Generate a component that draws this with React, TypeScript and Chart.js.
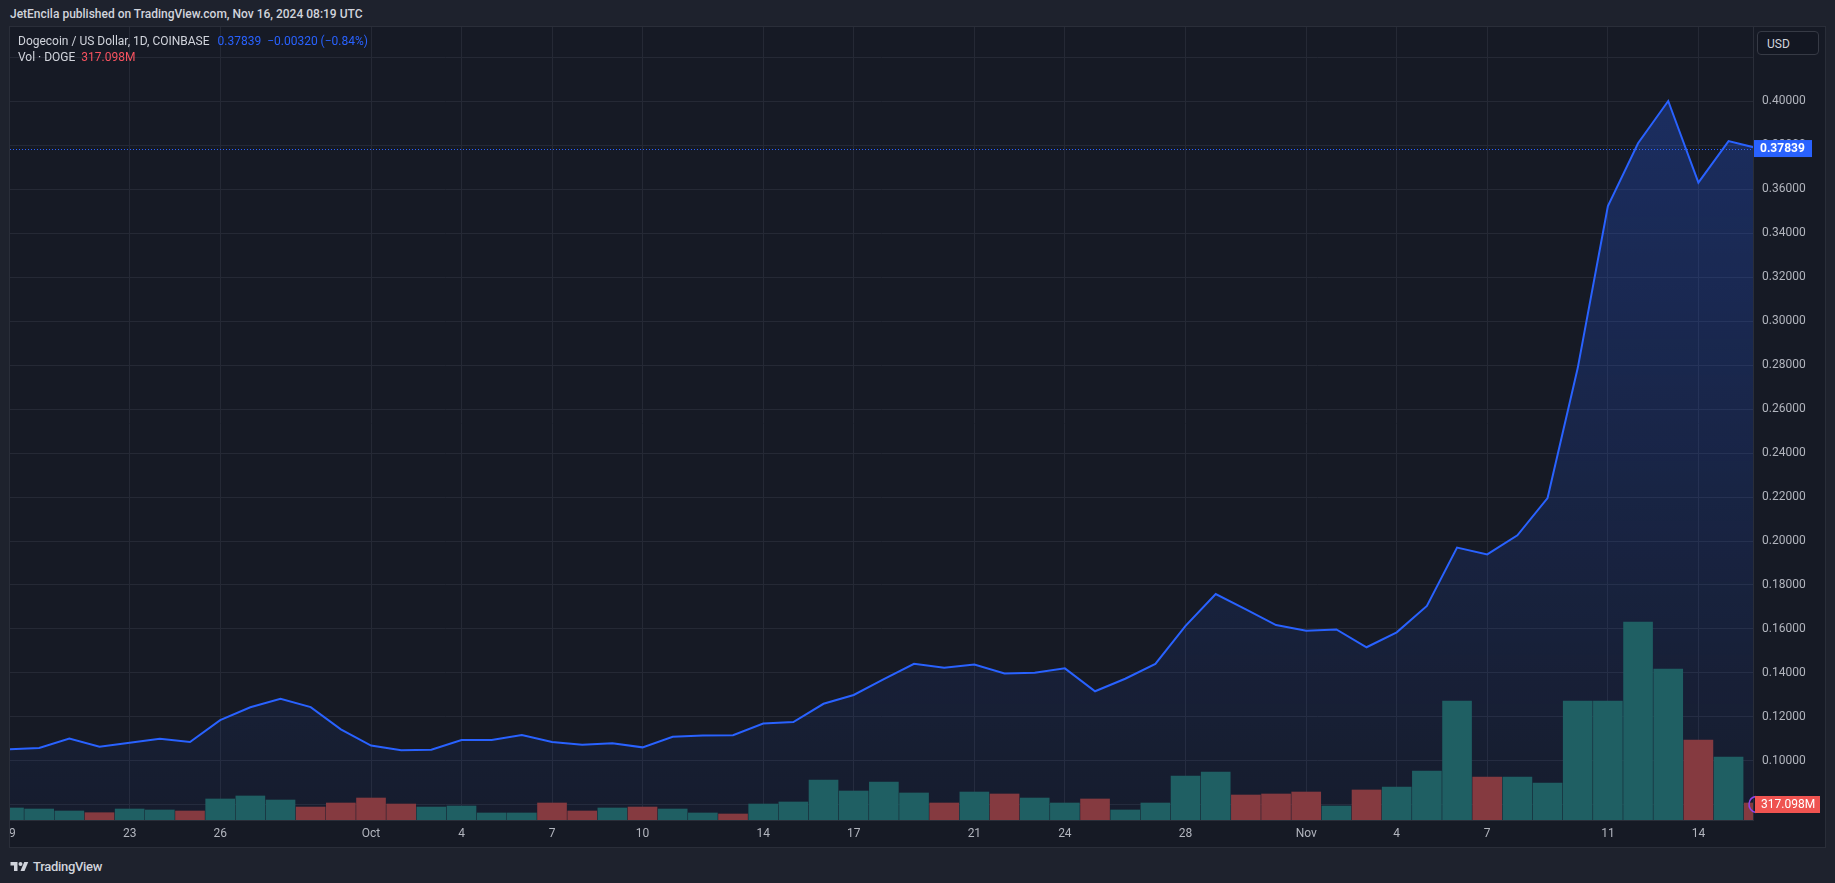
import React, { useEffect, useRef } from 'react';
import { Chart, registerables } from 'chart.js';

Chart.register(...registerables);

// ---- Data (daily, Sep 19 → Nov 16, 2024) ----
const DAYS = [
  'Sep 19', 'Sep 20', 'Sep 21', 'Sep 22', 'Sep 23', 'Sep 24', 'Sep 25', 'Sep 26', 'Sep 27', 'Sep 28', 'Sep 29', 'Sep 30',
  'Oct 1', 'Oct 2', 'Oct 3', 'Oct 4', 'Oct 5', 'Oct 6', 'Oct 7', 'Oct 8', 'Oct 9', 'Oct 10', 'Oct 11', 'Oct 12', 'Oct 13',
  'Oct 14', 'Oct 15', 'Oct 16', 'Oct 17', 'Oct 18', 'Oct 19', 'Oct 20', 'Oct 21', 'Oct 22', 'Oct 23', 'Oct 24', 'Oct 25',
  'Oct 26', 'Oct 27', 'Oct 28', 'Oct 29', 'Oct 30', 'Oct 31',
  'Nov 1', 'Nov 2', 'Nov 3', 'Nov 4', 'Nov 5', 'Nov 6', 'Nov 7', 'Nov 8', 'Nov 9', 'Nov 10', 'Nov 11', 'Nov 12', 'Nov 13',
  'Nov 14', 'Nov 15', 'Nov 16',
];

const PRICES = [
  0.1053, 0.1059, 0.1102, 0.1065, 0.1083, 0.1101, 0.1086, 0.1186, 0.1244, 0.1283, 0.1245, 0.1144,
  0.1070, 0.1049, 0.1051, 0.1095, 0.1095, 0.1118, 0.1086, 0.1074, 0.1081, 0.1062, 0.1110, 0.1116, 0.1117,
  0.1170, 0.1177, 0.1260, 0.1300, 0.1372, 0.1442, 0.1424, 0.1439, 0.1398, 0.1401, 0.1421, 0.1317,
  0.1374, 0.1441, 0.1614, 0.1759, 0.1689, 0.1618,
  0.1592, 0.1598, 0.1517, 0.1585, 0.1705, 0.1970, 0.1939, 0.2026, 0.2195, 0.2786, 0.3523, 0.3808, 0.4000,
  0.3629, 0.3818, 0.37839,
];

// volume in millions of DOGE
const VOLUMES = [
  224, 205, 168, 136, 205, 187, 168, 392, 448, 373, 242, 317,
  410, 298, 242, 261, 131, 131, 317, 168, 224, 242, 205, 131, 112,
  298, 336, 746, 541, 709, 504, 317, 522, 485, 410, 317, 392,
  187, 317, 821, 895, 466, 485,
  522, 261, 560, 615, 914, 2219, 802, 802, 690, 2219, 2219, 3693, 2816,
  1492, 1175, 317.098,
];

const VOLUME_UP = [
  true, true, true, false, true, true, false, true, true, true, false, false,
  false, false, true, true, true, true, false, false, true, false, true, true, false,
  true, true, true, true, true, true, false, true, false, true, true, false,
  true, true, true, true, false, false,
  false, true, false, true, true, true, false, true, true, true, true, true, true,
  false, true, false,
];

const X_TICK_INDEX = [0, 4, 7, 12, 15, 18, 21, 25, 28, 32, 35, 39, 43, 46, 49, 53, 56];
const X_TICK_LABELS = ['19', '23', '26', 'Oct', '4', '7', '10', '14', '17', '21', '24', '28', 'Nov', '4', '7', '11', '14'];

const PRICE_TICKS = [0.08, 0.10, 0.12, 0.14, 0.16, 0.18, 0.20, 0.22, 0.24, 0.26, 0.28, 0.30, 0.32, 0.34, 0.36, 0.38, 0.40, 0.42];
const PRICE_LABEL_MIN = 0.10;
const PRICE_LABEL_MAX = 0.40;

const LAST_PRICE = 0.37839;
const LAST_VOLUME = 317.098;

// ---- Axis ranges / styling ----
const X_MIN = 0.033;
const X_MAX = 57.81;
const Y_MIN = 0.07318;
const Y_MAX = 0.43364;
const VOL_AXIS_MAX = 14790;

const OUTER_BG = '#1e222d';
const PANE_BG = '#161a25';
const GRID = '#252935';
const BORDER = '#2a2e39';
const TEXT = '#b2b5be';
const BLUE = '#2962ff';
const TEAL = '#1f5f63';
const RED = '#853a40';
const FONT = 'Roboto, "Noto Sans", "DejaVu Sans", sans-serif';

const zeroPadding = (s: any) => {
  s.paddingLeft = 0;
  s.paddingRight = 0;
  s.paddingTop = 0;
  s.paddingBottom = 0;
};

const overlayPlugin = {
  id: 'tvOverlay',
  afterDatasetsDraw(chart: any) {
    const { ctx, chartArea } = chart;
    const y = chart.scales.y.getPixelForValue(LAST_PRICE);
    ctx.save();
    ctx.beginPath();
    ctx.rect(chartArea.left, chartArea.top, chartArea.right - chartArea.left, chartArea.bottom - chartArea.top);
    ctx.clip();
    ctx.strokeStyle = BLUE;
    ctx.lineWidth = 1;
    ctx.setLineDash([1, 2]);
    ctx.beginPath();
    ctx.moveTo(chartArea.left, Math.round(y) + 0.5);
    ctx.lineTo(chartArea.right, Math.round(y) + 0.5);
    ctx.stroke();
    ctx.restore();
  },
  afterDraw(chart: any) {
    const { ctx, chartArea } = chart;
    const r = chartArea.right;
    // last price label
    const py = chart.scales.y.getPixelForValue(LAST_PRICE);
    ctx.save();
    ctx.fillStyle = BLUE;
    ctx.fillRect(r + 1, py - 8.5, 58, 17);
    ctx.fillStyle = '#ffffff';
    ctx.font = `bold 12px ${FONT}`;
    ctx.textBaseline = 'middle';
    ctx.textAlign = 'left';
    ctx.fillText(LAST_PRICE.toFixed(5), r + 7, py + 0.5);

    // last volume label
    const vy = chart.scales.yv.getPixelForValue(LAST_VOLUME);
    ctx.strokeStyle = '#8e44ec';
    ctx.lineWidth = 1.5;
    ctx.beginPath();
    ctx.arc(r + 4, vy + 1.5, 8, 0.55 * Math.PI, 1.45 * Math.PI);
    ctx.stroke();
    ctx.fillStyle = '#ef5350';
    ctx.fillRect(r + 2, vy - 7, 65, 17);
    ctx.fillStyle = '#ffffff';
    ctx.font = `12px ${FONT}`;
    ctx.fillText(LAST_VOLUME.toFixed(3) + 'M', r + 8, vy + 2);
    ctx.restore();
  },
};

export default function App() {
  const canvasRef = useRef<HTMLCanvasElement | null>(null);

  useEffect(() => {
    document.body.style.margin = '0';
    document.body.style.overflow = 'hidden';
    document.body.style.background = OUTER_BG;
    const canvas = canvasRef.current;
    if (!canvas) return;
    Chart.defaults.font.family = FONT;

    const priceData = PRICES.map((p, i) => ({ x: i, y: p }));
    const volData = VOLUMES.map((v, i) => ({ x: i, y: v }));
    const maxPrice = Math.max(...PRICES);

    const chart = new Chart(canvas, {
      type: 'bar',
      data: {
        labels: DAYS,
        datasets: [
          {
            type: 'line',
            label: 'DOGEUSD',
            data: priceData,
            yAxisID: 'y',
            borderColor: BLUE,
            borderWidth: 2,
            pointRadius: 0,
            tension: 0,
            fill: 'start',
            order: 2,
            backgroundColor: (c: any) => {
              const ch = c.chart;
              const area = ch.chartArea;
              if (!area) return 'rgba(41,98,255,0.15)';
              const top = ch.scales.y.getPixelForValue(maxPrice);
              const g = ch.ctx.createLinearGradient(0, top, 0, area.bottom);
              g.addColorStop(0, 'rgba(41,98,255,0.27)');
              g.addColorStop(1, 'rgba(41,98,255,0.04)');
              return g;
            },
          } as any,
          {
            type: 'bar',
            label: 'Vol',
            data: volData,
            yAxisID: 'yv',
            backgroundColor: VOLUME_UP.map((u) => (u ? TEAL : RED)),
            barThickness: 29,
            order: 1,
          } as any,
        ],
      },
      options: {
        responsive: false,
        maintainAspectRatio: false,
        animation: false,
        layout: { padding: 0, autoPadding: false } as any,
        plugins: {
          legend: { display: false },
          tooltip: { enabled: false },
        },
        scales: {
          x: {
            type: 'linear',
            min: X_MIN,
            max: X_MAX,
            offset: false,
            afterBuildTicks: (s: any) => {
              s.ticks = X_TICK_INDEX.map((v) => ({ value: v }));
            },
            afterFit: (s: any) => {
              s.height = 27;
              zeroPadding(s);
            },
            ticks: {
              autoSkip: false,
              maxRotation: 0,
              minRotation: 0,
              padding: 7,
              color: TEXT,
              font: { size: 12, family: FONT },
              callback: (_v: any, i: number) => X_TICK_LABELS[i],
            },
            grid: { color: GRID, drawTicks: false, offset: false },
            border: { display: true, color: BORDER },
          } as any,
          y: {
            type: 'linear',
            position: 'right',
            min: Y_MIN,
            max: Y_MAX,
            afterBuildTicks: (s: any) => {
              s.ticks = PRICE_TICKS.map((v) => ({ value: v }));
            },
            afterFit: (s: any) => {
              s.width = 72;
              zeroPadding(s);
            },
            ticks: {
              padding: 9,
              color: TEXT,
              font: { size: 12, family: FONT },
              callback: (v: any) =>
                v >= PRICE_LABEL_MIN - 1e-6 && v <= PRICE_LABEL_MAX + 1e-6 ? Number(v).toFixed(5) : '',
            },
            grid: { color: GRID, drawTicks: false },
            border: { display: true, color: BORDER },
          } as any,
          yv: {
            type: 'linear',
            display: false,
            min: 0,
            max: VOL_AXIS_MAX,
          },
        },
      },
      plugins: [overlayPlugin],
    });

    return () => chart.destroy();
  }, []);

  const abs = (style: React.CSSProperties): React.CSSProperties => ({ position: 'absolute', ...style });

  return (
    <div
      style={{
        position: 'absolute',
        left: 0,
        top: 0,
        width: 1835,
        height: 883,
        background: OUTER_BG,
        fontFamily: FONT,
        overflow: 'hidden',
      }}
    >
      <div style={abs({ left: 10, top: 7, fontSize: 12, fontWeight: 500, color: '#d1d4dc', whiteSpace: 'nowrap' })}>
        JetEncila published on TradingView.com, Nov 16, 2024 08:19 UTC
      </div>
      <div
        style={abs({
          left: 9,
          top: 26,
          width: 1815,
          height: 820,
          background: PANE_BG,
          border: `1px solid ${BORDER}`,
        })}
      />
      <canvas
        ref={canvasRef}
        width={1815}
        height={820}
        style={{ position: 'absolute', left: 10, top: 27, width: 1815, height: 820 }}
      />
      <div style={abs({ left: 18, top: 34, fontSize: 12, color: '#d1d4dc', whiteSpace: 'nowrap' })}>
        Dogecoin / US Dollar, 1D, COINBASE
        <span style={{ color: BLUE, marginLeft: 8 }}>0.37839&nbsp;&nbsp;−0.00320 (−0.84%)</span>
      </div>
      <div style={abs({ left: 18, top: 50, fontSize: 12, color: '#d1d4dc', whiteSpace: 'nowrap' })}>
        Vol · DOGE
        <span style={{ color: '#f7525f', marginLeft: 6 }}>317.098M</span>
      </div>
      <div
        style={abs({
          left: 1757,
          top: 31,
          width: 62,
          height: 24,
          border: '1px solid #363a45',
          borderRadius: 4,
          background: '#131722',
          color: '#d1d4dc',
          fontSize: 12,
          lineHeight: '24px',
          paddingLeft: 9,
          boxSizing: 'border-box',
        })}
      >
        USD
      </div>
      <div style={abs({ left: 10, top: 859, display: 'flex', alignItems: 'center', color: '#d1d4dc' })}>
        <svg width="19" height="14" viewBox="0 0 36 28" style={{ marginRight: 4 }}>
          <path d="M14 22H7V11H0V4h14v18z" fill="#d1d4dc" />
          <circle cx="20" cy="8" r="4" fill="#d1d4dc" />
          <path d="M28 22h-8l7.5-18h8L28 22z" fill="#d1d4dc" />
        </svg>
        <span style={{ fontSize: 13, fontWeight: 500, letterSpacing: -0.3 }}>TradingView</span>
      </div>
    </div>
  );
}
